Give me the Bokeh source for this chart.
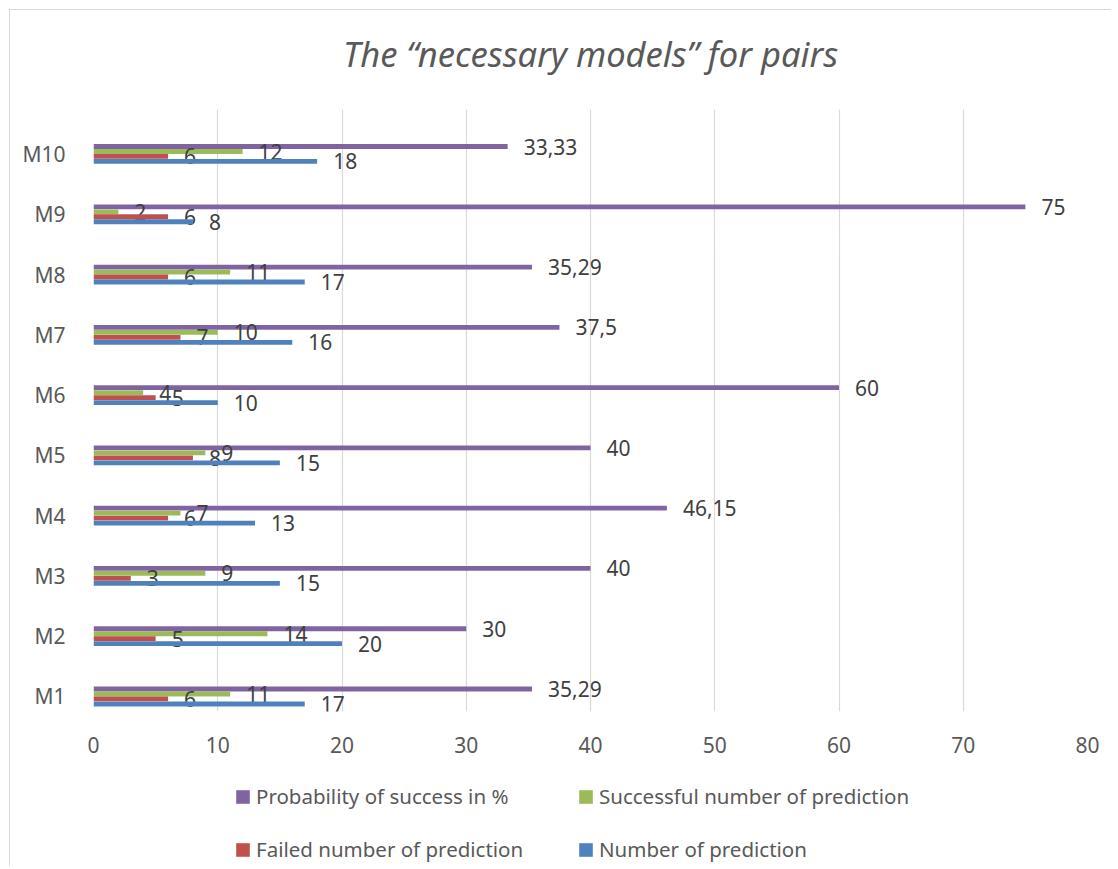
from bokeh.plotting import figure
from bokeh.layouts import column
from bokeh.models import ColumnDataSource, Legend, LegendItem, FixedTicker, Range1d
from bokeh.core.properties import value
from bokeh.embed import file_html
from bokeh.resources import INLINE

models = ["M1", "M2", "M3", "M4", "M5", "M6", "M7", "M8", "M9", "M10"]
number_pred = [17, 20, 15, 13, 15, 10, 16, 17, 8, 18]
failed_pred = [6, 5, 3, 6, 8, 5, 7, 6, 6, 6]
success_pred = [11, 14, 9, 7, 9, 4, 10, 11, 2, 12]
prob_success = [35.29, 30, 40, 46.15, 40, 60, 37.5, 35.29, 75, 33.33]
x_ticks = [0, 10, 20, 30, 40, 50, 60, 70, 80]

FONT = "Noto Sans"
BORDER = "1px solid #d9d9d9"
series = [
    ("Probability of success in %", prob_success, "#8064A2", 0.124),
    ("Successful number of prediction", success_pred, "#9BBB59", 0.041),
    ("Failed number of prediction", failed_pred, "#C0504D", -0.041),
    ("Number of prediction", number_pred, "#4F81BD", -0.124),
]

def fmt(v):
    return ("%g" % v).replace(".", ",")

# title strip
tf = figure(frame_width=993, frame_height=1, x_range=Range1d(0, 1), y_range=Range1d(0, 1),
            output_backend="svg", toolbar_location=None,
            min_border_left=83, min_border_right=25, min_border_top=66, min_border_bottom=0,
            x_axis_type=None, y_axis_type=None, margin=(9, 0, 0, 9))
tf.styles = {"border-left": BORDER, "border-top": BORDER}
tf.outline_line_color = None
tf.grid.visible = False
tf.title.text = "The \u201cnecessary models\u201d for pairs"
tf.title.align = "center"
tf.title.text_font = FONT
tf.title.text_font_style = "italic"
tf.title.text_font_size = "34.5px"
tf.title.text_color = "#595959"
tf.title.standoff = 0

# main chart
p = figure(frame_width=993, frame_height=602,
           x_range=Range1d(0, 80), y_range=Range1d(0.751, 10.738),
           output_backend="svg", toolbar_location=None,
           min_border_left=83, min_border_right=25, min_border_top=32, min_border_bottom=60,
           margin=(0, 0, 0, 9))
p.styles = {"border-left": BORDER}
p.outline_line_color = None
p.background_fill_color = "white"
p.border_fill_color = "white"

pos = list(range(1, len(models) + 1))
for name, vals, color, off in series:
    src = ColumnDataSource(dict(y=[i + off for i in pos], right=vals,
                                lab=[fmt(v) for v in vals]))
    p.hbar(y="y", left=0, right="right", height=0.08, source=src,
           fill_color=color, line_color=None)
    p.text(x="right", y="y", text="lab", source=src, x_offset=16,
           text_align="left", text_baseline="middle",
           text_font=value(FONT), text_font_size="21px", text_color="#404040")

p.xaxis.ticker = FixedTicker(ticks=x_ticks)
p.yaxis.ticker = FixedTicker(ticks=pos)
p.yaxis.major_label_overrides = {i: m for i, m in zip(pos, models)}
for ax in (p.xaxis, p.yaxis):
    ax.axis_line_color = None
    ax.major_tick_line_color = None
    ax.minor_tick_line_color = None
    ax.major_label_text_font = FONT
    ax.major_label_text_font_size = "21px"
    ax.major_label_text_color = "#595959"
p.xaxis.major_label_standoff = 19
p.yaxis.major_label_standoff = 22
p.ygrid.grid_line_color = None
p.xgrid.grid_line_color = "#d9d9d9"
p.xgrid.grid_line_width = 1.2

# legend strip below the chart
lg = figure(frame_width=1101, frame_height=95, x_range=Range1d(0, 1), y_range=Range1d(0, 1),
            output_backend="svg", toolbar_location=None, min_border=0,
            x_axis_type=None, y_axis_type=None, margin=(0, 0, 0, 9))
lg.styles = {"border-left": BORDER}
lg.outline_line_color = None
lg.grid.visible = False
lg.border_fill_color = "white"
items = []
for name, vals, color, off in series:
    # zero-size swatch renderer outside the visible range; only its legend glyph shows
    r = lg.hbar(y=[5], left=[0], right=[0], height=0.0, fill_color=color, line_color=None)
    items.append(LegendItem(label=name, renderers=[r]))
legend = Legend(items=items, orientation="horizontal", ncols=2, location=(224, 0),
                label_text_font=FONT, label_text_font_size="20.5px", label_text_color="#595959",
                glyph_width=17, glyph_height=17, label_standoff=5, label_width=302,
                label_height=34, spacing=19, padding=0, margin=0,
                border_line_color=None, background_fill_alpha=0)
lg.add_layout(legend, "center")

layout = column(tf, p, lg, spacing=0)
open("out.html", "w").write(file_html(layout, INLINE))
